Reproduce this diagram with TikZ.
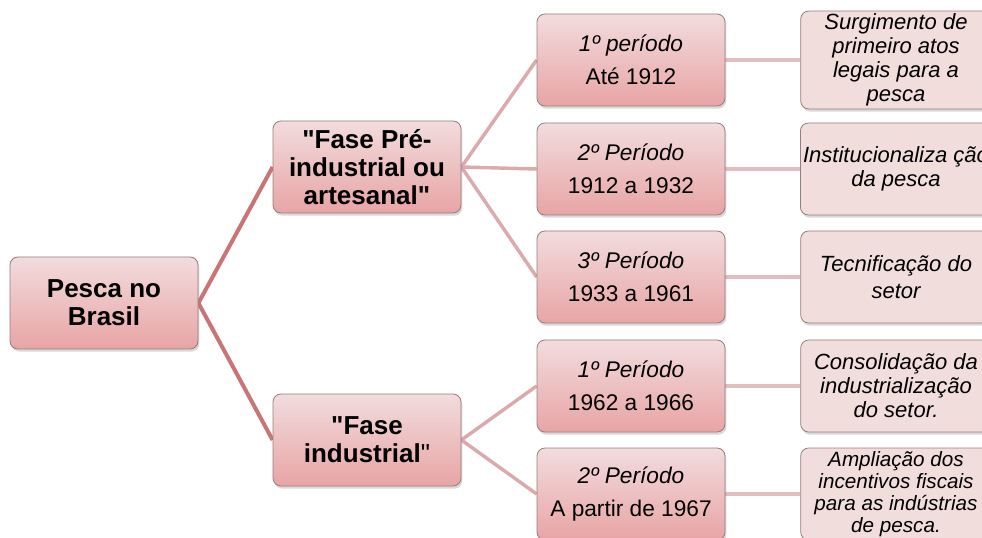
\documentclass[tikz,border=0pt]{standalone}
\usepackage{fontspec}
\setmainfont{Liberation Sans}
\usepackage{tikz}
\usetikzlibrary{shadows,backgrounds}
\definecolor{boxtop}{RGB}{242,220,221}
\definecolor{boxbot}{RGB}{232,164,165}
\definecolor{descfill}{RGB}{242,221,221}
\definecolor{boxline}{RGB}{150,126,126}
\definecolor{linkdark}{RGB}{201,116,117}
\definecolor{linklight}{RGB}{219,170,172}
\definecolor{linkpale}{RGB}{226,190,192}
\tikzset{
  % caixa base
  box/.style={
    draw=boxline,
    line width=0.6pt,
    rounded corners=6pt,
    minimum width=141pt,
    minimum height=69pt,
    align=center,
    inner sep=2pt,
    drop shadow={opacity=0.3, shadow xshift=1pt, shadow yshift=-2pt}
  },
  % raiz e fases
  head/.style={box, top color=boxtop, bottom color=boxbot,
    font=\fontsize{19.5}{21}\selectfont\bfseries},
  % periodos
  period/.style={box, top color=boxtop, bottom color=boxbot,
    font=\fontsize{17}{25}\selectfont},
  % descricoes
  desc/.style={box, fill=descfill, minimum width=143pt,
    font=\fontsize{16.5}{18}\selectfont\itshape},
  % ligacoes
  link1/.style={linkdark, line width=3pt},
  link2/.style={linklight, line width=2.6pt},
  link3/.style={linkpale, line width=2.6pt},
}
\newcommand{\aspas}{\textquotedbl}

\begin{document}
\begin{tikzpicture}[x=0.75pt, y=-0.75pt]
  \clip (0,0) rectangle (982,538);

  % raiz
  \node[head] (root) at (104,303) {Pesca no\\Brasil};

  % fases
  \node[head] (pre) at (367,167) {\aspas Fase Pré-\\industrial ou\\artesanal\aspas};
  \node[head] (ind) at (367,440) {\aspas Fase\\industrial{\mdseries\aspas}};

  % periodos
  \node[period] (p1) at (631,60)  {\textit{1º período}\\Até 1912};
  \node[period] (p2) at (631,169) {\textit{2º Período}\\1912 a 1932};
  \node[period] (p3) at (631,277) {\textit{3º Período}\\1933 a 1961};
  \node[period] (p4) at (631,386) {\textit{1º Período}\\1962 a 1966};
  \node[period] (p5) at (631,494) {\textit{2º Período}\\A partir de 1967};

  % descricoes
  \node[desc] (d1) at (896,60)  {Surgimento de\\primeiro atos\\legais para a\\pesca};
  \node[desc] (d2) at (896,169) {Institucionaliza ção\\da pesca};
  \node[desc, font=\fontsize{16.5}{20}\selectfont\itshape] (d3) at (896,277) {Tecnificação do\\setor};
  \node[desc] (d4) at (896,386) {Consolidação da\\industrialização\\do setor.};
  \node[desc, font=\fontsize{15.5}{16.5}\selectfont\itshape] (d5) at (896,494) {Ampliação dos\\incentivos fiscais\\para as indústrias\\de pesca.};

  \begin{scope}[on background layer]
    \draw[link1] (root.east) -- (pre.west);
    \draw[link1] (root.east) -- (ind.west);

    \draw[link2] (pre.east) -- (p1.west);
    \draw[link2] (pre.east) -- (p2.west);
    \draw[link2] (pre.east) -- (p3.west);
    \draw[link2] (ind.east) -- (p4.west);
    \draw[link2] (ind.east) -- (p5.west);

    \draw[link3] (p1.east) -- (d1.west);
    \draw[link3] (p2.east) -- (d2.west);
    \draw[link3] (p3.east) -- (d3.west);
    \draw[link3] (p4.east) -- (d4.west);
    \draw[link3] (p5.east) -- (d5.west);
  \end{scope}
\end{tikzpicture}
\end{document}
